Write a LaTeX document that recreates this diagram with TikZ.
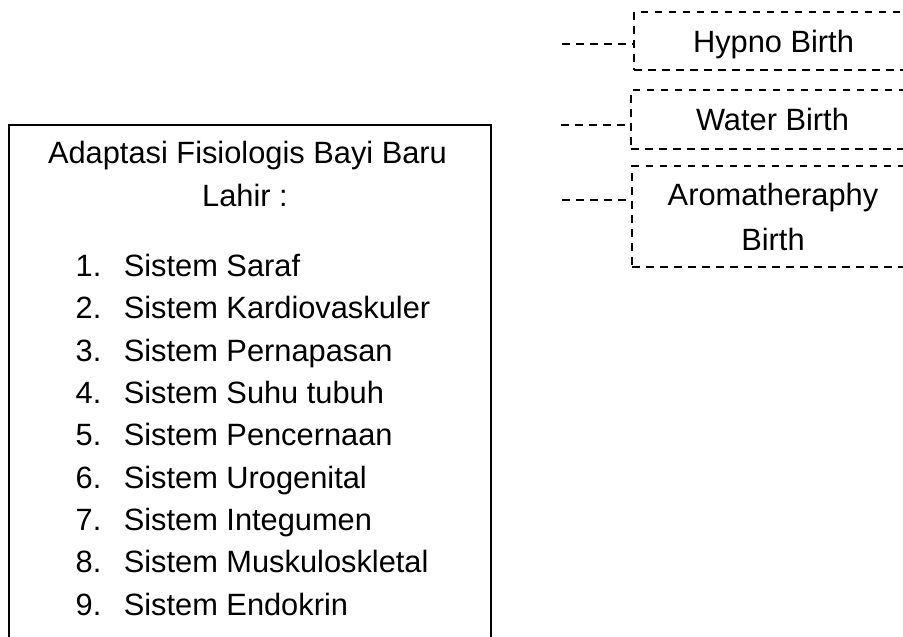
\documentclass[tikz,border=0pt]{standalone}
\usepackage{fontspec}
\setmainfont{Liberation Sans}
\begin{document}
\begin{tikzpicture}[x=1pt,y=-1pt,
  txt/.style={font=\fontsize{30.8}{45}\selectfont, inner sep=0pt},
  solidbox/.style={draw, line width=1.6pt, inner sep=0pt},
  dbox/.style={draw, line width=1.8pt, dash pattern=on 7.5pt off 6.5pt, inner sep=0pt,
    font=\fontsize{30.8}{45}\selectfont, align=center},
  dline/.style={draw, line width=1.8pt, dash pattern=on 7.5pt off 6.5pt}]
\useasboundingbox (0,0) rectangle (903,637);
\clip (0,0) rectangle (903,637);
% left box (bottom runs off the page)
\node[solidbox, anchor=north west, minimum width=482pt, minimum height=560pt] (adapt) at (8,124) {};
\node[txt, anchor=base] (head1) at (247.5,163) {Adaptasi Fisiologis Bayi Baru};
\node[txt, anchor=base] (head2) at (245,206.7) {Lahir :};
\foreach \i/\t in {1/Sistem Saraf,2/Sistem Kardiovaskuler,3/Sistem Pernapasan,4/Sistem Suhu tubuh,5/Sistem Pencernaan,6/Sistem Urogenital,7/Sistem Integumen,8/Sistem Muskuloskletal,9/Sistem Endokrin}{
  \pgfmathsetmacro\yy{276.7+42.29*(\i-1)}
  \node[txt, anchor=base west] (num\i) at (75.5,\yy) {\i.};
  \node[txt, anchor=base west] (item\i) at (123.6,\yy) {\t};
}
% right dashed boxes (right side runs off the page)
\node[dbox, text depth=0pt, minimum width=279pt, minimum height=58pt] (hypno) at (773.5,41) {Hypno Birth};
\node[dbox, text depth=0pt, minimum width=283pt, minimum height=59pt] (water) at (772.5,119.5) {Water Birth};
\node[dbox, minimum width=282pt, minimum height=101pt] (aroma) at (773,216.5) {Aromatheraphy\\Birth};
% connectors with free left ends
\coordinate (h0) at (562,44);
\coordinate (w0) at (561,125);
\coordinate (a0) at (562,200);
\draw[dline] (h0) -- (h0 -| hypno.west);
\draw[dline] (w0) -- (w0 -| water.west);
\draw[dline] (a0) -- (a0 -| aroma.west);
\end{tikzpicture}
\end{document}
